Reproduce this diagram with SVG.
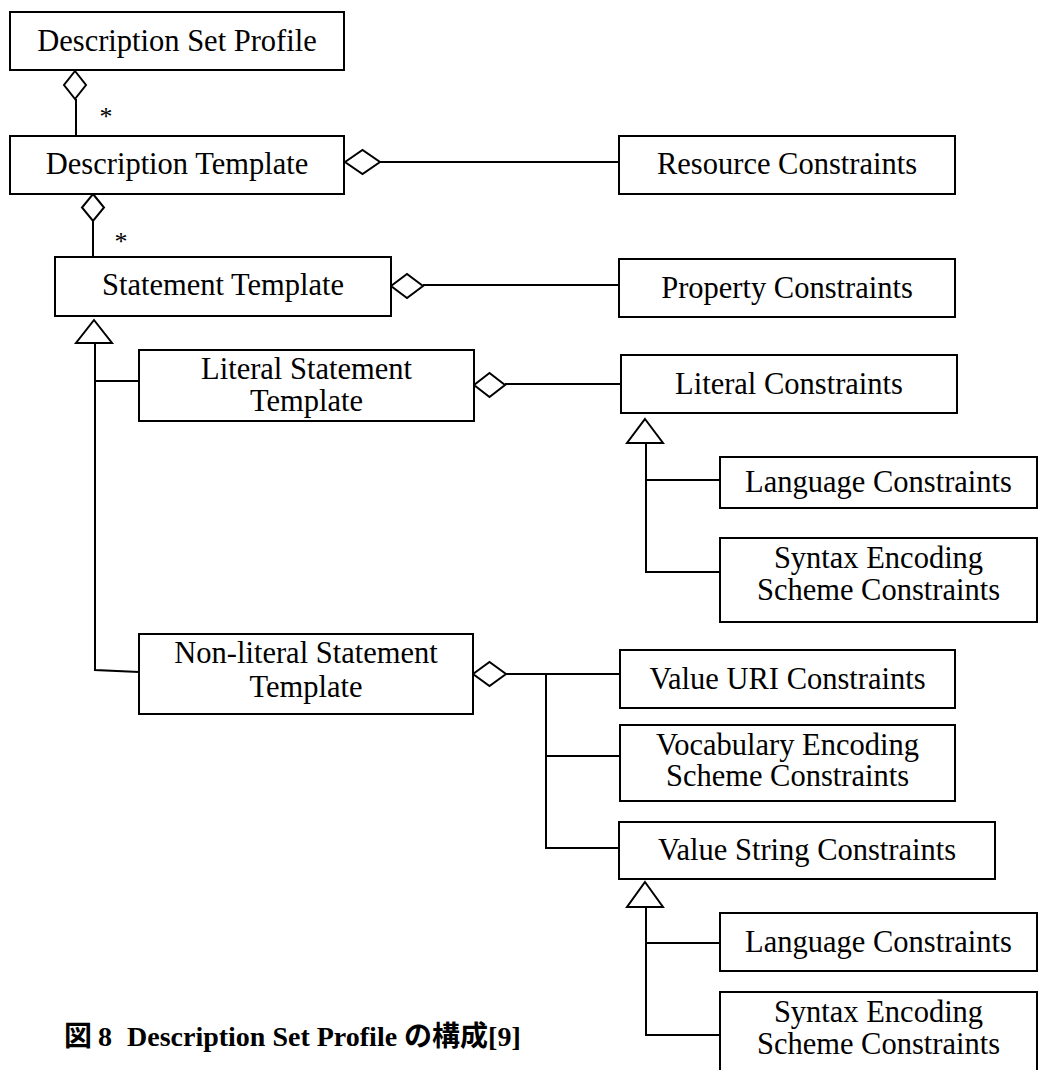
<svg xmlns="http://www.w3.org/2000/svg" width="1047" height="1070" viewBox="0 0 1047 1070">
  <style>
    .box { fill: #fff; stroke: #000; stroke-width: 2; }
    .lbl { font-family: "Liberation Serif", "Times New Roman", serif; font-size: 30.5px; fill: #000; text-anchor: middle; }
    .mult { font-family: "Liberation Serif", serif; font-size: 26px; fill: #000; text-anchor: middle; }
    .wire { fill: none; stroke: #000; stroke-width: 2; }
    .agg { fill: #fff; stroke: #000; stroke-width: 2; stroke-linejoin: miter; }
    .gen { fill: #fff; stroke: #000; stroke-width: 2; stroke-linejoin: miter; }
    .cap { font-family: "Liberation Serif", "Noto Sans CJK JP", serif; font-size: 28px; font-weight: bold; fill: #000; }
  </style>
  <rect width="1047" height="1070" fill="#fff"/>

  <!-- connectors -->
  <g id="connectors">
    <!-- Description Set Profile <>- Description Template -->
    <line class="wire" x1="76" y1="99" x2="76" y2="136"/>
    <polygon class="agg" points="75,71 86,85 75,99 64,85"/>
    <text class="mult" x="106" y="125">*</text>

    <!-- Description Template <>- Statement Template -->
    <line class="wire" x1="93" y1="221" x2="93" y2="257"/>
    <polygon class="agg" points="93,194 104,207.5 93,221 82,207.5"/>
    <text class="mult" x="121" y="250">*</text>

    <!-- Description Template <>- Resource Constraints -->
    <line class="wire" x1="380" y1="162" x2="619" y2="162"/>
    <polygon class="agg" points="345,162 362.5,150 380,162 362.5,174"/>

    <!-- Statement Template <>- Property Constraints -->
    <line class="wire" x1="423" y1="285" x2="619" y2="285"/>
    <polygon class="agg" points="391,286 407,274 423,286 407,298"/>

    <!-- Literal Statement Template <>- Literal Constraints -->
    <line class="wire" x1="505" y1="384" x2="621" y2="384"/>
    <polygon class="agg" points="474,385 489.5,373 505,385 489.5,397"/>

    <!-- Statement Template generalisation -->
    <polyline class="wire" points="95,343 95,670 139,672"/>
    <line class="wire" x1="95" y1="381" x2="139" y2="381"/>
    <polygon class="gen" points="94,320 112,343 76,343"/>

    <!-- Literal Constraints generalisation -->
    <polyline class="wire" points="646,443 646,572 720,572"/>
    <line class="wire" x1="646" y1="480" x2="720" y2="480"/>
    <polygon class="gen" points="645,419 663,443 627,443"/>

    <!-- Non-literal Statement Template <>- value constraints -->
    <line class="wire" x1="506" y1="674" x2="620" y2="674"/>
    <polyline class="wire" points="546,674 546,848 619,848"/>
    <line class="wire" x1="546" y1="756" x2="620" y2="756"/>
    <polygon class="agg" points="473,674 489.5,662 506,674 489.5,686"/>

    <!-- Value String Constraints generalisation -->
    <polyline class="wire" points="646,907 646,1035 720,1035"/>
    <line class="wire" x1="646" y1="943" x2="720" y2="943"/>
    <polygon class="gen" points="645,882 663,907 627,907"/>
  </g>

  <g id="description-set-profile">
    <rect class="box" x="10" y="12" width="334" height="58"/>
    <text class="lbl" x="177" y="51">Description Set Profile</text>
  </g>
  <g id="description-template">
    <rect class="box" x="10" y="136" width="334" height="58"/>
    <text class="lbl" x="177" y="174">Description Template</text>
  </g>
  <g id="statement-template">
    <rect class="box" x="55" y="257" width="336" height="59"/>
    <text class="lbl" x="223" y="295">Statement Template</text>
  </g>
  <g id="resource-constraints">
    <rect class="box" x="619" y="136" width="336" height="58"/>
    <text class="lbl" x="787" y="174">Resource Constraints</text>
  </g>
  <g id="property-constraints">
    <rect class="box" x="619" y="259" width="336" height="58"/>
    <text class="lbl" x="787" y="298">Property Constraints</text>
  </g>
  <g id="literal-statement-template">
    <rect class="box" x="139" y="350" width="335" height="71"/>
    <text class="lbl" x="306.5" y="379">Literal Statement</text>
    <text class="lbl" x="306.5" y="411">Template</text>
  </g>
  <g id="literal-constraints">
    <rect class="box" x="621" y="355" width="336" height="58"/>
    <text class="lbl" x="789" y="394">Literal Constraints</text>
  </g>
  <g id="language-constraints-literal">
    <rect class="box" x="720" y="457" width="317" height="51"/>
    <text class="lbl" x="878.5" y="492">Language Constraints</text>
  </g>
  <g id="syntax-encoding-scheme-constraints-literal">
    <rect class="box" x="720" y="538" width="317" height="84"/>
    <text class="lbl" x="878.5" y="568">Syntax Encoding</text>
    <text class="lbl" x="878.5" y="600">Scheme Constraints</text>
  </g>
  <g id="non-literal-statement-template">
    <rect class="box" x="139" y="634" width="334" height="80"/>
    <text class="lbl" x="306" y="663">Non-literal Statement</text>
    <text class="lbl" x="306" y="697">Template</text>
  </g>
  <g id="value-uri-constraints">
    <rect class="box" x="620" y="650" width="335" height="58"/>
    <text class="lbl" x="787.5" y="689">Value URI Constraints</text>
  </g>
  <g id="vocabulary-encoding-scheme-constraints">
    <rect class="box" x="620" y="725" width="335" height="76"/>
    <text class="lbl" x="787.5" y="755">Vocabulary Encoding</text>
    <text class="lbl" x="787.5" y="786">Scheme Constraints</text>
  </g>
  <g id="value-string-constraints">
    <rect class="box" x="619" y="822" width="376" height="57"/>
    <text class="lbl" x="807" y="860">Value String Constraints</text>
  </g>
  <g id="language-constraints-value-string">
    <rect class="box" x="720" y="913" width="317" height="58"/>
    <text class="lbl" x="878.5" y="952">Language Constraints</text>
  </g>
  <g id="syntax-encoding-scheme-constraints-value-string">
    <rect class="box" x="720" y="992" width="317" height="100"/>
    <text class="lbl" x="878.5" y="1022">Syntax Encoding</text>
    <text class="lbl" x="878.5" y="1054">Scheme Constraints</text>
  </g>

  <text class="cap" y="1046"><tspan x="64">図</tspan><tspan x="98">8</tspan><tspan x="127">Description Set Profile の構成[9]</tspan></text>
</svg>
